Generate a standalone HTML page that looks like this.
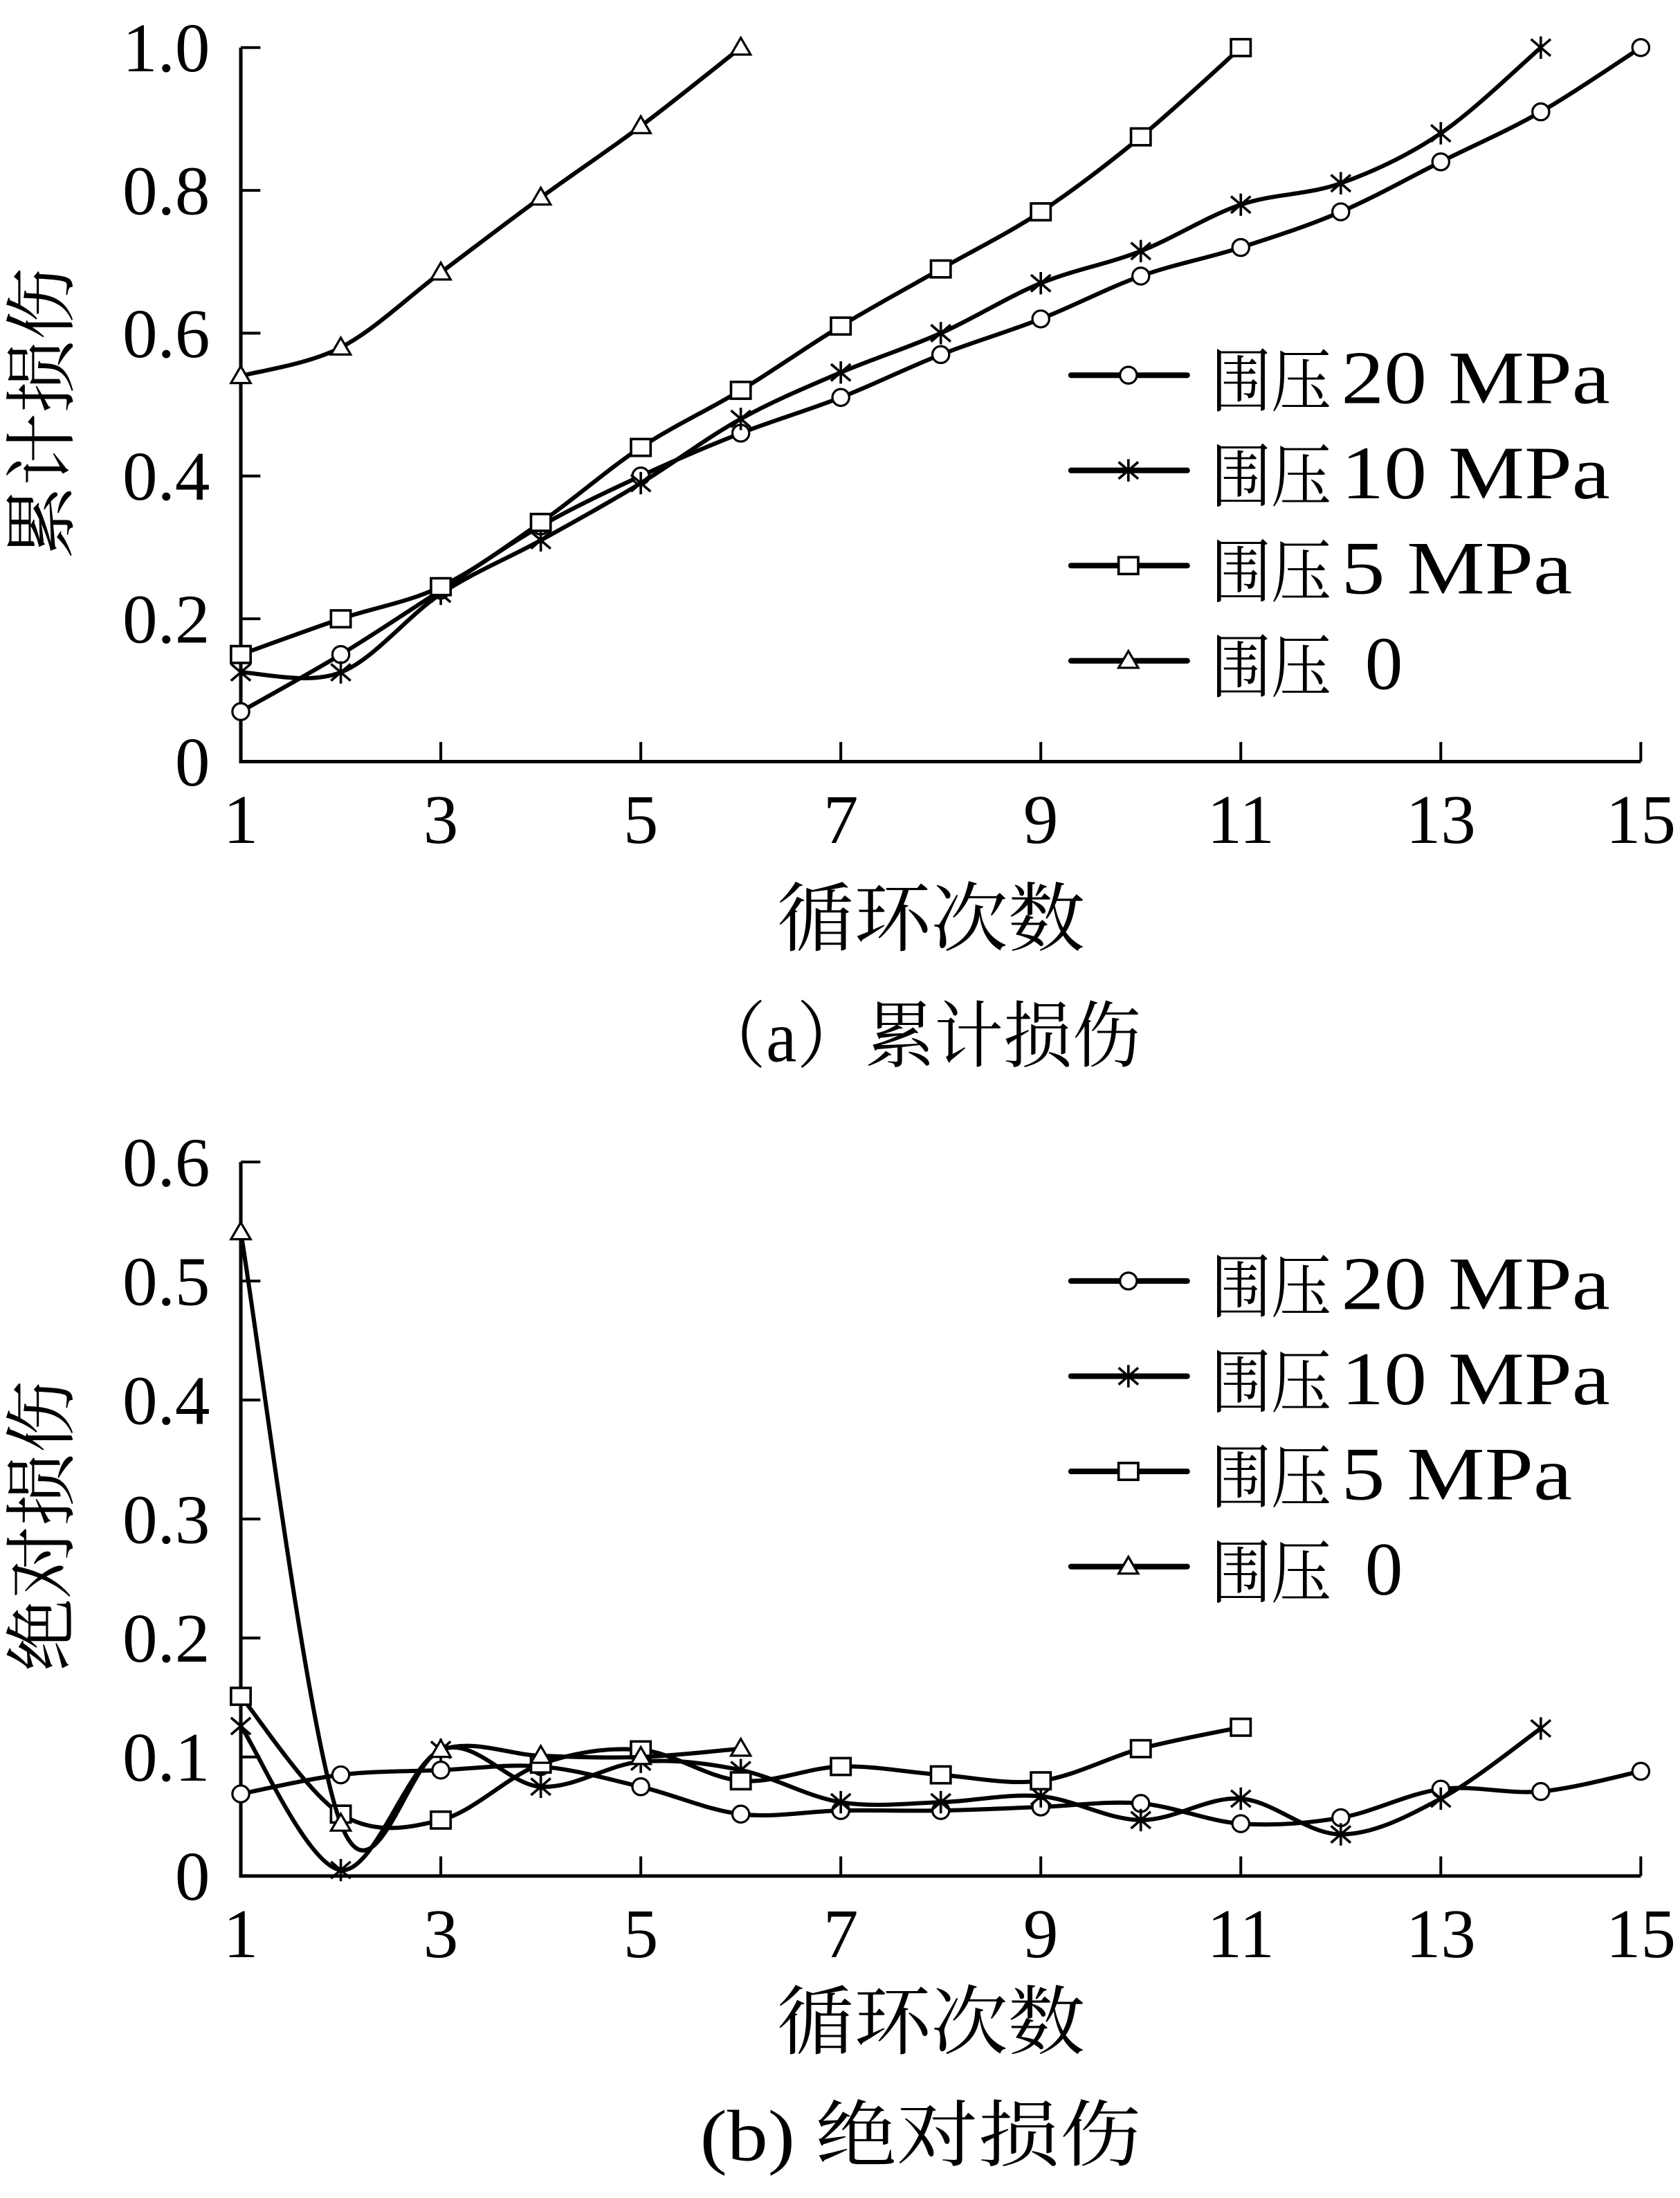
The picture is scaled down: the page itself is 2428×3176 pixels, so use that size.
<!DOCTYPE html>
<html><head><meta charset="utf-8"><style>
html,body{margin:0;padding:0;background:#fff;}
svg{display:block;}
text{font-family:"Liberation Serif","Noto Serif CJK SC",serif;fill:#000;}
</style></head><body>
<svg id="fig" xmlns="http://www.w3.org/2000/svg" width="2428" height="3176" viewBox="0 0 1200 1570" preserveAspectRatio="none"></svg>
<script>
const cycles = [1,2,3,4,5,6,7,8,9,10,11,12,13,14,15];
const xTicks = [1,3,5,7,9,11,13,15];
const seriesPrefix = ["围压","围压","围压","围压"];
const seriesSuffix = ["20 MPa","10 MPa","5 MPa","0"];
const seriesMarkers = ["circle","star","square","triangle"];
// (a) cumulative damage
const cum20 = [0.07,0.15,0.24,0.33,0.40,0.46,0.51,0.57,0.62,0.68,0.72,0.77,0.84,0.91,1.0];
const cum10 = [0.125,0.125,0.235,0.31,0.39,0.48,0.545,0.60,0.67,0.715,0.78,0.81,0.88,1.0];
const cum5 = [0.15,0.20,0.245,0.335,0.44,0.52,0.61,0.69,0.77,0.875,1.0];
const cum0 = [0.54,0.58,0.685,0.79,0.89,1.0];
const yTicksA = [0,0.2,0.4,0.6,0.8,1.0];
const yTickLabelsA = ["0","0.2","0.4","0.6","0.8","1.0"];
// (b) absolute damage
const abs20 = [0.069,0.085,0.089,0.092,0.075,0.052,0.055,0.055,0.058,0.061,0.044,0.049,0.073,0.071,0.088];
const abs10 = [0.126,0.005,0.106,0.075,0.096,0.089,0.062,0.062,0.067,0.047,0.065,0.035,0.065,0.124];
const abs5 = [0.151,0.052,0.047,0.094,0.106,0.08,0.092,0.085,0.08,0.107,0.125];
const abs0 = [0.541,0.044,0.106,0.101,0.1,0.107];
const yTicksB = [0,0.1,0.2,0.3,0.4,0.5,0.6];
const yTickLabelsB = ["0","0.1","0.2","0.3","0.4","0.5","0.6"];

const NS="http://www.w3.org/2000/svg";
const svg=document.getElementById('fig');
function el(tag,attrs,parent){const e=document.createElementNS(NS,tag);for(const k in attrs)e.setAttribute(k,attrs[k]);(parent||svg).appendChild(e);return e;}
function xScale(v){return 172+(v-1)/14*1000;}
function spline(pts){
  let d="M"+pts[0][0]+","+pts[0][1];
  for(let i=0;i<pts.length-1;i++){
    const p0=pts[i-1]||pts[i],p1=pts[i],p2=pts[i+1],p3=pts[i+2]||p2;
    const t=1/6;
    d+=" C"+(p1[0]+(p2[0]-p0[0])*t)+","+(p1[1]+(p2[1]-p0[1])*t)+" "+(p2[0]-(p3[0]-p1[0])*t)+","+(p2[1]-(p3[1]-p1[1])*t)+" "+p2[0]+","+p2[1];
  }
  return d;
}
function marker(g,type,x,y){
  if(type==="circle")el('ellipse',{cx:x,cy:y,rx:6,ry:6,fill:'#fff',stroke:'#000','stroke-width':1.6},g);
  else if(type==="square")el('rect',{x:x-7,y:y-6,width:14,height:12,fill:'#fff',stroke:'#000','stroke-width':1.8},g);
  else if(type==="triangle")el('path',{d:`M${x},${y-7} L${x+7},${y+5} L${x-7},${y+5} Z`,fill:'#fff',stroke:'#000','stroke-width':1.6},g);
  else{el('path',{d:`M${x-7},${y-6} L${x+7},${y+6} M${x-7},${y+6} L${x+7},${y-6} M${x},${y-8} L${x},${y+8}`,stroke:'#000','stroke-width':1.8,fill:'none'},g);}
}
const suffixLen=[192,192,165,27];
function panel(id,y0,yTop,yMax,yTicks,yLabels,data,yTitle,yTitleY,xTitleY,caption,capY,capX0,capLen,legendY){
  const yScale=v=>y0-(v/yMax)*(y0-yTop);
  const g=el('g',{});
  
  
  const ax=el('path',{d:`M172,${yTop} L172,${y0} L1172,${y0}`,stroke:'#000','stroke-width':2.5,fill:'none'},g);
  
  
  yTicks.forEach((t,i)=>{
    const y=yScale(t);
    el('line',{x1:172,y1:y,x2:186,y2:y,stroke:'#000','stroke-width':2},g);
    const tx=el('text',{x:150,y:y+17,'font-size':50,'text-anchor':'end'},g);
    tx.textContent=yLabels[i];
    
    
  });
  xTicks.forEach(t=>{
    const x=xScale(t);
    if(t>1)el('line',{x1:x,y1:y0,x2:x,y2:y0-14,stroke:'#000','stroke-width':2},g);
    const tx=el('text',{x:x,y:y0+58,'font-size':50,'text-anchor':'middle'},g);
    tx.textContent=t;
    
    
  });
  const xt=el('text',{x:555,y:xTitleY,'font-size':54,textLength:220,lengthAdjust:'spacingAndGlyphs'},g);
  xt.textContent="循环次数";
  
  
  const yt=el('text',{x:0,y:0,'font-size':52,'text-anchor':'middle',transform:`translate(48,${yTitleY}) rotate(-90)`},g);
  yt.textContent=yTitle;
  
  
  const cp=el('text',{x:capX0,y:capY,'font-size':52,textLength:capLen,lengthAdjust:'spacingAndGlyphs'},g);
  cp.textContent=caption;
  
  
  data.forEach((vals,si)=>{
    const sg=el('g',{},g);
    
    
    const pts=vals.map((v,i)=>[xScale(cycles[i]),yScale(v)]);
    el('path',{d:spline(pts),stroke:'#000','stroke-width':3,fill:'none'},sg);
    pts.forEach(p=>marker(sg,seriesMarkers[si],p[0],p[1]));
  });
  seriesPrefix.forEach((n,i)=>{
    const ly=legendY+i*68;
    const lg=el('g',{},g);
    
    
    el('line',{x1:765,y1:ly,x2:848,y2:ly,stroke:'#000','stroke-width':4,'stroke-linecap':'round'},lg);
    marker(lg,seriesMarkers[i],806,ly);
    const t=el('text',{x:865,y:ly+22,'font-size':50,textLength:86,lengthAdjust:'spacingAndGlyphs'},lg);
    t.textContent=n;
    const s=el('text',{x:i===3?975:958,y:ly+20,'font-size':54,textLength:suffixLen[i],lengthAdjust:'spacingAndGlyphs'},lg);
    s.textContent=seriesSuffix[i];
  });
}
panel('cumulative',544,34,1.0,yTicksA,yTickLabelsA,[cum20,cum10,cum5,cum0],"累计损伤",295,675,"（a）累计损伤",758,498,317,268);
panel('absolute',1340,830,0.6,yTicksB,yTickLabelsB,[abs20,abs10,abs5,abs0],"绝对损伤",1090,1463,"(b) 绝对损伤",1543,500,315,915);
</script>
</body></html>
